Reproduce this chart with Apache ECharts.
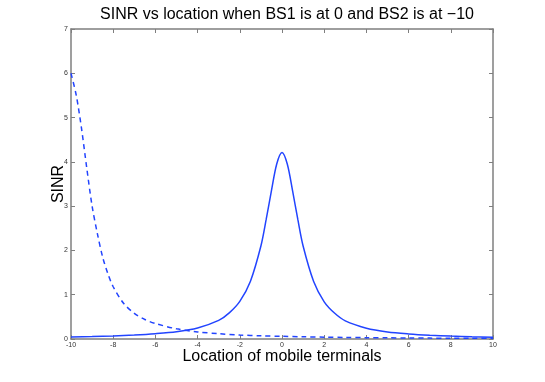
<!DOCTYPE html>
<html>
<head>
<meta charset="utf-8">
<script src="https://cdn.jsdelivr.net/npm/echarts@6/dist/echarts.min.js"></script>
<style>
    html, body { margin: 0; padding: 0; background: #fff; }
    #chart { width: 545px; height: 382px; }
</style>
</head>
<body>
<div id="chart"></div>
<script>
// SINR of BS1 (at 0)
const bs1X = [-10, -9, -8, -7, -6, -5, -4, -3, -2.5, -2, -1.5, -1, -0.75, -0.5, -0.25, 0,
              0.25, 0.5, 0.75, 1, 1.5, 2, 2.5, 3, 4, 5, 6, 7, 8, 9, 10]
const bs1Y = [0.045, 0.055, 0.07, 0.09, 0.12, 0.165, 0.25, 0.42, 0.59, 0.85, 1.3, 2.1, 2.7, 3.35, 3.95, 4.21,
              3.95, 3.35, 2.7, 2.1, 1.3, 0.84, 0.58, 0.41, 0.245, 0.16, 0.115, 0.085, 0.065, 0.052, 0.042]

// SINR of BS2 (at -10), dashed
const bs2X = [-10, -9.75, -9.5, -9.25, -9, -8.75, -8.5, -8.25, -8, -7.5, -7, -6.5, -6, -5, -4, -3, -2, -1, 0,
              1, 2, 3, 4, 5, 6, 7, 8, 9, 10]
const bs2Y = [6.0, 5.5, 4.75, 3.85, 3.0, 2.38, 1.85, 1.47, 1.18, 0.8, 0.58, 0.44, 0.35, 0.23, 0.16, 0.12, 0.09, 0.072, 0.06,
              0.05, 0.042, 0.035, 0.03, 0.026, 0.023, 0.02, 0.018, 0.016, 0.015]

const xTicks = [-10, 10, 2]   // min, max, step
const yTicks = [0, 7, 1]

const lineBlue = '#2244ff'
const axisGray = '#7f7f7f'
const font = 'Liberation Sans, Arial, sans-serif'

const zip = (xs, ys) => xs.map((x, i) => [x, ys[i]])

const chart = echarts.init(document.getElementById('chart'))

const boxAxis = (pos, isX, showLabel) => ({
    type: 'value',
    position: pos,
    min: isX ? xTicks[0] : yTicks[0],
    max: isX ? xTicks[1] : yTicks[1],
    interval: isX ? xTicks[2] : yTicks[2],
    axisLine: { show: true, onZero: false, lineStyle: { color: axisGray, width: 1.5 } },
    axisTick: { show: true, inside: true, length: 4, lineStyle: { color: axisGray, width: 1 } },
    axisLabel: { show: showLabel, fontSize: 7, color: '#333', fontFamily: font, margin: 3 },
    splitLine: { show: false },
})

const option = {
    backgroundColor: '#fff',
    animation: false,
    title: {
        text: 'SINR vs location when BS1 is at 0 and BS2 is at \u221210',
        left: 282,
        textAlign: 'center',
        top: 2,
        textStyle: { fontSize: 16, fontWeight: 'normal', color: '#000', fontFamily: font },
    },
    grid: { left: 71, right: 52, top: 29, bottom: 43 },
    xAxis: [
        Object.assign(boxAxis('bottom', true, true), {
            name: 'Location of mobile terminals',
            nameLocation: 'middle',
            nameGap: 10,
            nameMoveOverlap: false,
            nameTextStyle: { fontSize: 16, color: '#000', fontFamily: font },
        }),
        boxAxis('top', true, false),
    ],
    yAxis: [
        Object.assign(boxAxis('left', false, true), {
            name: 'SINR',
            nameLocation: 'middle',
            nameGap: 4,
            nameMoveOverlap: false,
            nameTextStyle: { fontSize: 16, color: '#000', fontFamily: font },
        }),
        boxAxis('right', false, false),
    ],
    series: [
        {
            type: 'line',
            data: zip(bs1X, bs1Y),
            smooth: 0.3,
            showSymbol: false,
            lineStyle: { color: lineBlue, width: 1.5 },
        },
        {
            type: 'line',
            data: zip(bs2X, bs2Y),
            smooth: 0.3,
            showSymbol: false,
            lineStyle: { color: lineBlue, width: 1.5, type: [5, 4] },
        },
    ],
}

chart.setOption(option)
</script>
</body>
</html>
